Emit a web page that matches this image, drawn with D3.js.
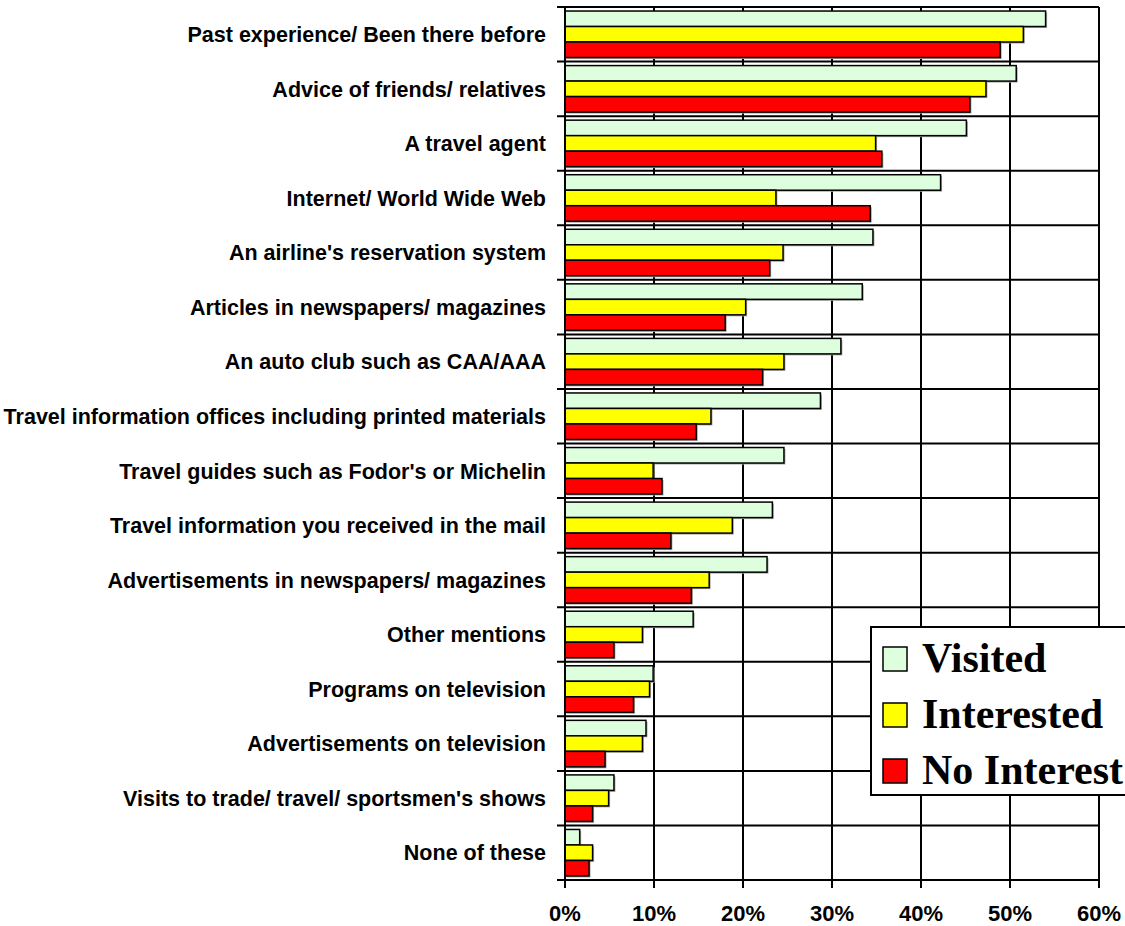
<!DOCTYPE html>
<html lang="en">
<head>
  <meta charset="UTF-8">
  <title>Information sources</title>
  <style>
    body { margin: 0; background: #fff; }
    svg { display: block; }
  </style>
</head>
<body>
  <svg id="container" width="1125" height="926">
    <g id="body"></g>
  </svg>
<script src="https://cdn.jsdelivr.net/npm/d3@7"></script>
<script>
  const categories = [
    "Past experience/ Been there before",
    "Advice of friends/ relatives",
    "A travel agent",
    "Internet/ World Wide Web",
    "An airline's reservation system",
    "Articles in newspapers/ magazines",
    "An auto club such as CAA/AAA",
    "Travel information offices including printed materials",
    "Travel guides such as Fodor's or Michelin",
    "Travel information you received in the mail",
    "Advertisements in newspapers/ magazines",
    "Other mentions",
    "Programs on television",
    "Advertisements on television",
    "Visits to trade/ travel/ sportsmen's shows",
    "None of these"
  ]
  const seriesNames = ["Visited", "Interested", "No Interest"]
  const visited    = [54.0, 50.7, 45.1, 42.2, 34.6, 33.4, 31.0, 28.7, 24.6, 23.3, 22.7, 14.4, 9.9, 9.1, 5.5, 1.65]
  const interested = [51.5, 47.3, 34.9, 23.7, 24.5, 20.3, 24.6, 16.4, 9.9, 18.8, 16.2, 8.7, 9.5, 8.7, 4.9, 3.1]
  const noInterest = [48.9, 45.5, 35.6, 34.3, 23.0, 18.0, 22.2, 14.75, 10.9, 11.9, 14.2, 5.5, 7.7, 4.5, 3.1, 2.7]
  const xTicks = [0, 10, 20, 30, 40, 50, 60]

  const colors = ["#DDFFDD", "#FFFF00", "#FF0000"]
  const values = [visited, interested, noInterest]

  const plotLeft = 565, plotRight = 1099, plotTop = 7, plotBottom = 880
  const container = d3.select("#body")

  const x = d3.scaleLinear().domain([0, 60]).range([plotLeft, plotRight])
  const y = d3.scaleBand().domain(categories).range([plotTop, plotBottom])
  const ySub = d3.scaleBand().domain(seriesNames).range([0, y.bandwidth()]).paddingInner(0).paddingOuter(0.26)
  const cScale = d3.scaleOrdinal().domain(seriesNames).range(colors)

  // vertical gridlines
  container.append("g").selectAll("line")
    .data(xTicks).enter().append("line")
    .attr("x1", d => x(d)).attr("x2", d => x(d))
    .attr("y1", plotTop).attr("y2", plotBottom + 8)
    .attr("stroke", "#000").attr("stroke-width", 2)

  // horizontal gridlines at category boundaries (with left ticks)
  const bounds = categories.map(c => y(c)).concat([plotBottom])
  container.append("g").selectAll("line")
    .data(bounds).enter().append("line")
    .attr("x1", plotLeft - 8).attr("x2", plotRight)
    .attr("y1", d => d).attr("y2", d => d)
    .attr("stroke", "#000").attr("stroke-width", 2)

  // bars
  const rows = categories.map((c, i) => ({
    name: c,
    vals: seriesNames.map((s, j) => ({ series: s, value: values[j][i] }))
  }))

  const cell = container.append("g").selectAll("g")
    .data(rows).enter().append("g")
    .attr("transform", d => `translate(0,${y(d.name)})`)

  // soft shadow
  cell.selectAll("rect.shadow")
    .data(d => d.vals).enter().append("rect")
    .attr("class", "shadow")
    .attr("x", x(0) + 1.5)
    .attr("y", d => ySub(d.series) + 1.5)
    .attr("width", d => x(d.value) - x(0))
    .attr("height", ySub.bandwidth())
    .attr("fill", "#aaa")

  cell.selectAll("rect.bar")
    .data(d => d.vals).enter().append("rect")
    .attr("class", "bar")
    .attr("x", x(0))
    .attr("y", d => ySub(d.series))
    .attr("width", d => x(d.value) - x(0))
    .attr("height", ySub.bandwidth())
    .attr("fill", d => cScale(d.series))
    .attr("stroke", "#000").attr("stroke-width", 1.5)

  // y axis line
  container.append("line")
    .attr("x1", plotLeft).attr("x2", plotLeft).attr("y1", plotTop).attr("y2", plotBottom + 8)
    .attr("stroke", "#000").attr("stroke-width", 2)

  // category labels
  container.append("g").selectAll("text")
    .data(categories).enter().append("text")
    .attr("x", 546)
    .attr("y", d => y(d) + y.bandwidth() / 2)
    .attr("dy", "0.36em")
    .attr("text-anchor", "end")
    .attr("font-family", "Liberation Sans, Arial, sans-serif")
    .attr("font-weight", "bold")
    .attr("font-size", 21.5)
    .text(d => d)

  // x tick labels
  container.append("g").selectAll("text")
    .data(xTicks).enter().append("text")
    .attr("x", d => x(d))
    .attr("y", 913)
    .attr("dy", "0.36em")
    .attr("text-anchor", "middle")
    .attr("font-family", "Liberation Sans, Arial, sans-serif")
    .attr("font-weight", "bold")
    .attr("font-size", 22)
    .text(d => d + "%")

  // legend
  const legend = container.append("g").attr("transform", "translate(871,627)")
  legend.append("rect")
    .attr("width", 300).attr("height", 168)
    .attr("fill", "#fff").attr("stroke", "#000").attr("stroke-width", 2)

  const item = legend.selectAll("g.item")
    .data(seriesNames).enter().append("g")
    .attr("class", "item")
    .attr("transform", (d, i) => `translate(0,${45 + i * 56})`)

  item.append("rect")
    .attr("x", 12).attr("y", -25)
    .attr("width", 24).attr("height", 24)
    .attr("fill", d => cScale(d))
    .attr("stroke", "#000").attr("stroke-width", 1.5)

  item.append("text")
    .attr("x", 51).attr("y", 0)
    .attr("font-family", "Liberation Serif, Times New Roman, serif")
    .attr("font-weight", "bold")
    .attr("font-size", 42)
    .text(d => d)
</script>
</body>
</html>
